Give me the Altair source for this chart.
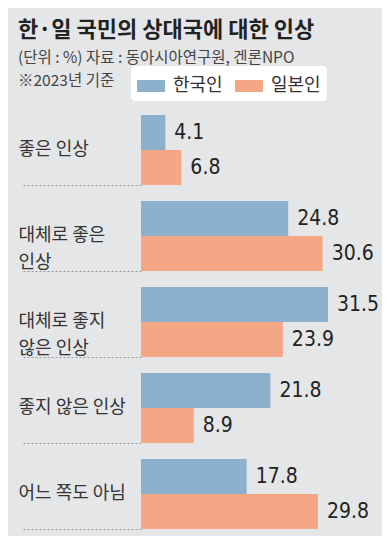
import altair as alt
import pandas as pd

categories = ["좋은 인상", "대체로 좋은|인상", "대체로 좋지|않은 인상", "좋지 않은 인상", "어느 쪽도 아님"]
series = ["한국인", "일본인"]
korea = [4.1, 24.8, 31.5, 21.8, 17.8]
japan = [6.8, 30.6, 23.9, 8.9, 29.8]

BLUE = "#8db0cc"
ORANGE = "#f4a784"
BG = "#e5e6e8"
KR = "Noto Sans CJK KR"

rows = []
for c, k, j in zip(categories, korea, japan):
    rows.append({"cat": c, "series": series[0], "value": k})
    rows.append({"cat": c, "series": series[1], "value": j})
df = pd.DataFrame(rows)

base = alt.Chart(df).encode(
    y=alt.Y(
        "cat:N",
        sort=categories,
        scale=alt.Scale(paddingInner=16 / 86, paddingOuter=0),
        axis=alt.Axis(
            title=None,
            domain=False,
            ticks=True,
            tickSize=119,
            tickDash=[2, 2],
            tickColor="#9a9a9a",
            tickWidth=1,
            bandPosition=1,
            labelAlign="left",
            labelBaseline="middle",
            labelPadding=4,
            labelFont=KR,
            labelFontSize=18,
            labelColor="#333333",
            labelLineHeight=27,
            labelLimit=200,
            labelExpr="split(datum.label, '|')",
        ),
    ),
    yOffset=alt.YOffset(
        "series:N", sort=series, scale=alt.Scale(paddingInner=0, paddingOuter=0)
    ),
    x=alt.X(
        "value:Q",
        scale=alt.Scale(domain=[0, 40.6], nice=False, zero=True),
        axis=None,
    ),
)

bars = base.mark_bar(cornerRadius=0).encode(
    color=alt.Color(
        "series:N",
        sort=series,
        scale=alt.Scale(domain=series, range=[BLUE, ORANGE]),
        legend=alt.Legend(
            title=None,
            orient="none",
            legendX=-10,
            legendY=-49,
            direction="horizontal",
            symbolType="M-1,-0.43H1V0.43H-1Z",
            symbolSize=784,
            symbolStrokeWidth=0,
            symbolOpacity=1,
            labelFont=KR,
            labelFontSize=18,
            labelColor="#333333",
            labelOffset=8,
            columnPadding=12,
            fillColor="white",
            cornerRadius=4,
            padding=6,
        ),
    )
)

labels = base.mark_text(
    align="left",
    baseline="middle",
    dx=9,
    font="DejaVu Sans Condensed",
    fontSize=21,
    color="#222222",
).encode(text=alt.Text("value:Q", format=".1f"))

chart = (
    alt.layer(bars, labels)
    .properties(
        width=241,
        height=414,
        autosize="none",
        padding={"left": 133, "top": 107, "right": 0, "bottom": 7},
        background=BG,
        title=alt.Title(
            text="한·일 국민의 상대국에 대한 인상",
            subtitle=["(단위 : %)  자료 : 동아시아연구원, 겐론NPO", "※2023년 기준"],
            anchor="start",
            frame="group",
            dx=-123,
            offset=-24,
            font=KR,
            fontSize=22,
            fontWeight="bold",
            color="#222222",
            subtitleFont=KR,
            subtitleFontSize=15.5,
            subtitleColor="#444444",
            subtitleLineHeight=23,
            subtitlePadding=9,
        ),
    )
    .configure_view(stroke=None)
)

chart.save("out.html", embed_options={"renderer": "svg", "actions": False})
